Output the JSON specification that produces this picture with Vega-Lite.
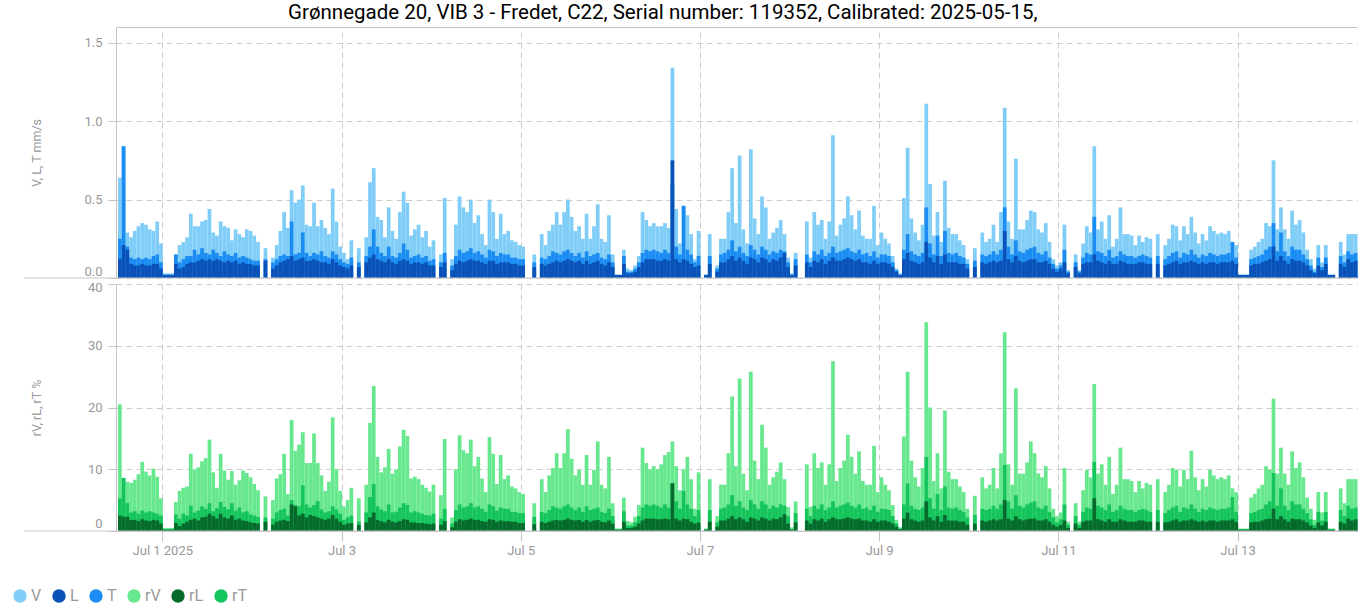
{
"$schema":"https://vega.github.io/schema/vega-lite/v6.json",
"background":"white",
"padding":{"left":12,"top":3,"right":0,"bottom":0},
"title":{"text":"Grønnegade 20, VIB 3 - Fredet, C22, Serial number: 119352, Calibrated: 2025-05-15,","font":"Roboto","fontSize":20.5,"fontWeight":"normal","color":"#000000","anchor":"middle","dx":-22,"offset":3.5},
"data":{"values":[
{"t":"2025-06-30T12:00","V":0.64,"L":0.12,"T":0.25,"rV":20.5,"rL":2.5,"rT":5.3},
{"t":"2025-06-30T13:00","V":0.84,"L":0.21,"T":0.84,"rV":8.6,"rL":2.3,"rT":8.6},
{"t":"2025-06-30T14:00","V":0.29,"L":0.18,"T":0.2,"rV":8,"rL":2.3,"rT":4.5},
{"t":"2025-06-30T15:00","V":0.26,"L":0.09,"T":0.13,"rV":7.8,"rL":1.8,"rT":3},
{"t":"2025-06-30T16:00","V":0.3,"L":0.08,"T":0.12,"rV":8.3,"rL":1.8,"rT":3.2},
{"t":"2025-06-30T17:00","V":0.33,"L":0.08,"T":0.13,"rV":9.2,"rL":1.6,"rT":2.8},
{"t":"2025-06-30T18:00","V":0.35,"L":0.09,"T":0.12,"rV":11.2,"rL":1.9,"rT":3.3},
{"t":"2025-06-30T19:00","V":0.34,"L":0.08,"T":0.13,"rV":9.6,"rL":1.7,"rT":3},
{"t":"2025-06-30T20:00","V":0.31,"L":0.08,"T":0.12,"rV":9,"rL":1.6,"rT":3.2},
{"t":"2025-06-30T21:00","V":0.3,"L":0.09,"T":0.14,"rV":10.1,"rL":1.8,"rT":3},
{"t":"2025-06-30T22:00","V":0.36,"L":0.09,"T":0.15,"rV":8.8,"rL":1.7,"rT":2.8},
{"t":"2025-06-30T23:00","V":0.22,"L":0.06,"T":0.1,"rV":5.3,"rL":1.2,"rT":2.5},
{"t":"2025-07-01T00:00","V":0.03,"L":0.02,"T":0.02,"rV":0.5,"rL":0.2,"rT":0.3},
{"t":"2025-07-01T01:00","V":0.03,"L":0.02,"T":0.02,"rV":0.5,"rL":0.2,"rT":0.3},
{"t":"2025-07-01T02:00","V":0.03,"L":0.02,"T":0.02,"rV":0.5,"rL":0.2,"rT":0.3},
{"t":"2025-07-01T03:00","V":0.15,"L":0.09,"T":0.15,"rV":4.7,"rL":1.3,"rT":2.7},
{"t":"2025-07-01T04:00","V":0.21,"L":0.06,"T":0.1,"rV":6.5,"rL":0.8,"rT":2},
{"t":"2025-07-01T05:00","V":0.23,"L":0.07,"T":0.12,"rV":7,"rL":1.2,"rT":2.8},
{"t":"2025-07-01T06:00","V":0.26,"L":0.09,"T":0.14,"rV":7.2,"rL":1.5,"rT":2.5},
{"t":"2025-07-01T07:00","V":0.41,"L":0.1,"T":0.14,"rV":12.5,"rL":1.8,"rT":4.1},
{"t":"2025-07-01T08:00","V":0.33,"L":0.1,"T":0.18,"rV":10,"rL":2,"rT":3},
{"t":"2025-07-01T09:00","V":0.33,"L":0.11,"T":0.15,"rV":10.3,"rL":1.7,"rT":3.3},
{"t":"2025-07-01T10:00","V":0.36,"L":0.12,"T":0.19,"rV":11.3,"rL":2.2,"rT":4},
{"t":"2025-07-01T11:00","V":0.37,"L":0.11,"T":0.16,"rV":11.8,"rL":2.3,"rT":3.6},
{"t":"2025-07-01T12:00","V":0.44,"L":0.12,"T":0.15,"rV":14.8,"rL":2.8,"rT":4.5},
{"t":"2025-07-01T13:00","V":0.29,"L":0.11,"T":0.18,"rV":9.5,"rL":2.4,"rT":3.2},
{"t":"2025-07-01T14:00","V":0.27,"L":0.12,"T":0.16,"rV":7,"rL":2,"rT":3.7},
{"t":"2025-07-01T15:00","V":0.36,"L":0.11,"T":0.14,"rV":12.5,"rL":2.8,"rT":4.7},
{"t":"2025-07-01T16:00","V":0.33,"L":0.1,"T":0.17,"rV":9.8,"rL":2.2,"rT":3.9},
{"t":"2025-07-01T17:00","V":0.32,"L":0.11,"T":0.15,"rV":8.3,"rL":2,"rT":3.5},
{"t":"2025-07-01T18:00","V":0.24,"L":0.1,"T":0.14,"rV":9.7,"rL":2.5,"rT":4.5},
{"t":"2025-07-01T19:00","V":0.31,"L":0.11,"T":0.16,"rV":7.5,"rL":1.8,"rT":3.3},
{"t":"2025-07-01T20:00","V":0.28,"L":0.09,"T":0.13,"rV":8.2,"rL":2,"rT":3.8},
{"t":"2025-07-01T21:00","V":0.26,"L":0.1,"T":0.14,"rV":9.8,"rL":1.7,"rT":3},
{"t":"2025-07-01T22:00","V":0.31,"L":0.09,"T":0.13,"rV":9.4,"rL":1.6,"rT":3.2},
{"t":"2025-07-01T23:00","V":0.3,"L":0.09,"T":0.12,"rV":8.7,"rL":1.4,"rT":2.7},
{"t":"2025-07-02T00:00","V":0.27,"L":0.08,"T":0.11,"rV":7.6,"rL":1.3,"rT":2.5},
{"t":"2025-07-02T01:00","V":0.23,"L":0.08,"T":0.11,"rV":6.6,"rL":1.2,"rT":2.3},
{"t":"2025-07-02T03:00","V":0.19,"L":0.11,"T":0.12,"rV":5.6,"rL":1.5,"rT":2.2},
{"t":"2025-07-02T05:00","V":0.13,"L":0.06,"T":0.1,"rV":5,"rL":1,"rT":2},
{"t":"2025-07-02T06:00","V":0.21,"L":0.08,"T":0.12,"rV":8.5,"rL":1.5,"rT":3},
{"t":"2025-07-02T07:00","V":0.3,"L":0.1,"T":0.14,"rV":9.2,"rL":1.7,"rT":3.4},
{"t":"2025-07-02T08:00","V":0.42,"L":0.11,"T":0.15,"rV":12.5,"rL":1.8,"rT":3.6},
{"t":"2025-07-02T09:00","V":0.32,"L":0.12,"T":0.14,"rV":6,"rL":1.6,"rT":2.5},
{"t":"2025-07-02T10:00","V":0.56,"L":0.14,"T":0.36,"rV":18,"rL":4.3,"rT":5},
{"t":"2025-07-02T11:00","V":0.48,"L":0.11,"T":0.15,"rV":13,"rL":4,"rT":4.2},
{"t":"2025-07-02T12:00","V":0.5,"L":0.12,"T":0.16,"rV":14,"rL":2.5,"rT":4},
{"t":"2025-07-02T13:00","V":0.59,"L":0.13,"T":0.29,"rV":16,"rL":2.8,"rT":7.4},
{"t":"2025-07-02T14:00","V":0.34,"L":0.11,"T":0.16,"rV":11,"rL":2.2,"rT":4.3},
{"t":"2025-07-02T15:00","V":0.33,"L":0.11,"T":0.14,"rV":11,"rL":2.6,"rT":3.8},
{"t":"2025-07-02T16:00","V":0.48,"L":0.12,"T":0.16,"rV":15.8,"rL":2.4,"rT":4.2},
{"t":"2025-07-02T17:00","V":0.33,"L":0.11,"T":0.15,"rV":11,"rL":2.2,"rT":4.8},
{"t":"2025-07-02T18:00","V":0.37,"L":0.1,"T":0.17,"rV":9,"rL":2,"rT":3.5},
{"t":"2025-07-02T19:00","V":0.32,"L":0.1,"T":0.14,"rV":6.5,"rL":1.8,"rT":3},
{"t":"2025-07-02T20:00","V":0.28,"L":0.09,"T":0.13,"rV":8,"rL":2,"rT":3.2},
{"t":"2025-07-02T21:00","V":0.57,"L":0.12,"T":0.17,"rV":18.4,"rL":2.6,"rT":4},
{"t":"2025-07-02T22:00","V":0.36,"L":0.1,"T":0.15,"rV":10,"rL":2,"rT":3.5},
{"t":"2025-07-02T23:00","V":0.2,"L":0.08,"T":0.12,"rV":6.5,"rL":1.5,"rT":2.8},
{"t":"2025-07-03T00:00","V":0.16,"L":0.07,"T":0.1,"rV":4,"rL":1,"rT":1.8},
{"t":"2025-07-03T01:00","V":0.12,"L":0.06,"T":0.09,"rV":5,"rL":1.2,"rT":2.2},
{"t":"2025-07-03T02:00","V":0.24,"L":0.08,"T":0.13,"rV":7,"rL":1.3,"rT":2.5},
{"t":"2025-07-03T04:00","V":0.19,"L":0.07,"T":0.1,"rV":5.3,"rL":1,"rT":1.5},
{"t":"2025-07-03T06:00","V":0.26,"L":0.1,"T":0.14,"rV":7.5,"rL":1.4,"rT":3},
{"t":"2025-07-03T07:00","V":0.61,"L":0.13,"T":0.2,"rV":17.5,"rL":2.2,"rT":5.5},
{"t":"2025-07-03T08:00","V":0.7,"L":0.15,"T":0.31,"rV":23.5,"rL":3,"rT":7.6},
{"t":"2025-07-03T09:00","V":0.39,"L":0.12,"T":0.2,"rV":12,"rL":1.8,"rT":4},
{"t":"2025-07-03T10:00","V":0.37,"L":0.11,"T":0.16,"rV":9.5,"rL":1.6,"rT":3.5},
{"t":"2025-07-03T11:00","V":0.26,"L":0.1,"T":0.14,"rV":10.3,"rL":1.4,"rT":3.2},
{"t":"2025-07-03T12:00","V":0.45,"L":0.12,"T":0.2,"rV":13.3,"rL":1.8,"rT":4.3},
{"t":"2025-07-03T13:00","V":0.3,"L":0.1,"T":0.14,"rV":9.3,"rL":1.5,"rT":3},
{"t":"2025-07-03T14:00","V":0.25,"L":0.09,"T":0.13,"rV":10,"rL":1.4,"rT":3.1},
{"t":"2025-07-03T15:00","V":0.42,"L":0.11,"T":0.16,"rV":13.7,"rL":1.6,"rT":3.8},
{"t":"2025-07-03T16:00","V":0.55,"L":0.12,"T":0.22,"rV":16.4,"rL":1.9,"rT":4.5},
{"t":"2025-07-03T17:00","V":0.48,"L":0.11,"T":0.18,"rV":15.4,"rL":1.8,"rT":4.2},
{"t":"2025-07-03T18:00","V":0.27,"L":0.09,"T":0.13,"rV":8.5,"rL":1.4,"rT":3},
{"t":"2025-07-03T19:00","V":0.31,"L":0.1,"T":0.14,"rV":8.8,"rL":1.4,"rT":3.2},
{"t":"2025-07-03T20:00","V":0.34,"L":0.1,"T":0.15,"rV":8.4,"rL":1.3,"rT":3},
{"t":"2025-07-03T21:00","V":0.26,"L":0.09,"T":0.13,"rV":7.5,"rL":1.3,"rT":2.8},
{"t":"2025-07-03T22:00","V":0.3,"L":0.1,"T":0.14,"rV":7,"rL":1.2,"rT":2.6},
{"t":"2025-07-03T23:00","V":0.2,"L":0.08,"T":0.11,"rV":6.4,"rL":1.1,"rT":2.5},
{"t":"2025-07-04T00:00","V":0.24,"L":0.08,"T":0.12,"rV":7.5,"rL":1.2,"rT":2.8},
{"t":"2025-07-04T02:00","V":0.15,"L":0.07,"T":0.1,"rV":5.8,"rL":1,"rT":2},
{"t":"2025-07-04T03:00","V":0.51,"L":0.1,"T":0.16,"rV":14.9,"rL":1.6,"rT":3.6},
{"t":"2025-07-04T05:00","V":0.12,"L":0.05,"T":0.08,"rV":2.2,"rL":0.6,"rT":1.2},
{"t":"2025-07-04T06:00","V":0.34,"L":0.09,"T":0.14,"rV":10,"rL":1.5,"rT":3.4},
{"t":"2025-07-04T07:00","V":0.52,"L":0.11,"T":0.18,"rV":15.5,"rL":1.9,"rT":4.3},
{"t":"2025-07-04T08:00","V":0.45,"L":0.1,"T":0.16,"rV":13.1,"rL":1.7,"rT":3.8},
{"t":"2025-07-04T09:00","V":0.42,"L":0.11,"T":0.17,"rV":12.6,"rL":1.8,"rT":4},
{"t":"2025-07-04T10:00","V":0.5,"L":0.12,"T":0.19,"rV":14.8,"rL":2,"rT":4.5},
{"t":"2025-07-04T11:00","V":0.35,"L":0.11,"T":0.16,"rV":10.5,"rL":1.8,"rT":3.8},
{"t":"2025-07-04T12:00","V":0.4,"L":0.11,"T":0.17,"rV":12,"rL":1.8,"rT":4},
{"t":"2025-07-04T13:00","V":0.28,"L":0.1,"T":0.15,"rV":8.5,"rL":1.6,"rT":3.6},
{"t":"2025-07-04T14:00","V":0.21,"L":0.09,"T":0.13,"rV":6.3,"rL":1.5,"rT":3.1},
{"t":"2025-07-04T15:00","V":0.5,"L":0.11,"T":0.18,"rV":15.2,"rL":1.9,"rT":4.3},
{"t":"2025-07-04T16:00","V":0.42,"L":0.11,"T":0.17,"rV":12.5,"rL":1.8,"rT":4},
{"t":"2025-07-04T17:00","V":0.25,"L":0.09,"T":0.14,"rV":7.6,"rL":1.5,"rT":3.3},
{"t":"2025-07-04T18:00","V":0.41,"L":0.1,"T":0.16,"rV":12.3,"rL":1.7,"rT":3.8},
{"t":"2025-07-04T19:00","V":0.28,"L":0.1,"T":0.15,"rV":8.4,"rL":1.6,"rT":3.6},
{"t":"2025-07-04T20:00","V":0.3,"L":0.1,"T":0.15,"rV":9,"rL":1.6,"rT":3.6},
{"t":"2025-07-04T21:00","V":0.24,"L":0.09,"T":0.13,"rV":7.2,"rL":1.5,"rT":3.1},
{"t":"2025-07-04T22:00","V":0.23,"L":0.09,"T":0.13,"rV":6.9,"rL":1.5,"rT":3.1},
{"t":"2025-07-04T23:00","V":0.21,"L":0.08,"T":0.12,"rV":6.3,"rL":1.3,"rT":2.9},
{"t":"2025-07-05T00:00","V":0.2,"L":0.08,"T":0.12,"rV":6,"rL":1.3,"rT":2.9},
{"t":"2025-07-05T03:00","V":0.15,"L":0.07,"T":0.1,"rV":4.5,"rL":1.1,"rT":2.3},
{"t":"2025-07-05T05:00","V":0.28,"L":0.09,"T":0.13,"rV":8.4,"rL":1.5,"rT":3.1},
{"t":"2025-07-05T06:00","V":0.21,"L":0.08,"T":0.12,"rV":6.3,"rL":1.3,"rT":2.9},
{"t":"2025-07-05T07:00","V":0.3,"L":0.09,"T":0.14,"rV":9,"rL":1.5,"rT":3.4},
{"t":"2025-07-05T08:00","V":0.34,"L":0.1,"T":0.17,"rV":10.2,"rL":1.7,"rT":4},
{"t":"2025-07-05T09:00","V":0.42,"L":0.11,"T":0.16,"rV":12.6,"rL":1.8,"rT":3.8},
{"t":"2025-07-05T10:00","V":0.34,"L":0.1,"T":0.15,"rV":10.2,"rL":1.7,"rT":3.6},
{"t":"2025-07-05T11:00","V":0.42,"L":0.11,"T":0.17,"rV":12.6,"rL":1.8,"rT":4},
{"t":"2025-07-05T12:00","V":0.5,"L":0.12,"T":0.18,"rV":16.5,"rL":2,"rT":4.3},
{"t":"2025-07-05T13:00","V":0.39,"L":0.11,"T":0.16,"rV":11.7,"rL":1.8,"rT":3.8},
{"t":"2025-07-05T14:00","V":0.3,"L":0.1,"T":0.14,"rV":9,"rL":1.7,"rT":3.4},
{"t":"2025-07-05T15:00","V":0.33,"L":0.11,"T":0.16,"rV":9.9,"rL":1.8,"rT":3.8},
{"t":"2025-07-05T16:00","V":0.25,"L":0.09,"T":0.13,"rV":7.5,"rL":1.5,"rT":3.1},
{"t":"2025-07-05T17:00","V":0.41,"L":0.11,"T":0.17,"rV":12.3,"rL":1.8,"rT":4},
{"t":"2025-07-05T18:00","V":0.25,"L":0.09,"T":0.14,"rV":7.5,"rL":1.5,"rT":3.4},
{"t":"2025-07-05T19:00","V":0.33,"L":0.1,"T":0.15,"rV":9.9,"rL":1.7,"rT":3.6},
{"t":"2025-07-05T20:00","V":0.47,"L":0.11,"T":0.16,"rV":14.5,"rL":1.8,"rT":3.8},
{"t":"2025-07-05T21:00","V":0.25,"L":0.09,"T":0.13,"rV":7.5,"rL":1.5,"rT":3.1},
{"t":"2025-07-05T22:00","V":0.23,"L":0.08,"T":0.12,"rV":6.9,"rL":1.4,"rT":2.9},
{"t":"2025-07-05T23:00","V":0.4,"L":0.1,"T":0.15,"rV":12,"rL":1.7,"rT":3.6},
{"t":"2025-07-06T00:00","V":0.15,"L":0.07,"T":0.1,"rV":4.5,"rL":1.2,"rT":2.4},
{"t":"2025-07-06T01:00","V":0.02,"L":0.02,"T":0.02,"rV":0.4,"rL":0.2,"rT":0.3},
{"t":"2025-07-06T02:00","V":0.02,"L":0.02,"T":0.02,"rV":0.4,"rL":0.2,"rT":0.3},
{"t":"2025-07-06T03:00","V":0.18,"L":0.09,"T":0.14,"rV":5.4,"rL":1.5,"rT":3.2},
{"t":"2025-07-06T04:00","V":0.06,"L":0.03,"T":0.04,"rV":1.6,"rL":0.5,"rT":0.9},
{"t":"2025-07-06T05:00","V":0.05,"L":0.03,"T":0.04,"rV":1.4,"rL":0.5,"rT":0.9},
{"t":"2025-07-06T06:00","V":0.08,"L":0.04,"T":0.06,"rV":2.3,"rL":0.7,"rT":1.4},
{"t":"2025-07-06T07:00","V":0.14,"L":0.07,"T":0.1,"rV":4.2,"rL":1.2,"rT":2.4},
{"t":"2025-07-06T08:00","V":0.42,"L":0.1,"T":0.16,"rV":13.5,"rL":1.7,"rT":3.8},
{"t":"2025-07-06T09:00","V":0.37,"L":0.12,"T":0.18,"rV":11,"rL":2,"rT":4.3},
{"t":"2025-07-06T10:00","V":0.33,"L":0.12,"T":0.17,"rV":10,"rL":2,"rT":4.1},
{"t":"2025-07-06T11:00","V":0.35,"L":0.12,"T":0.18,"rV":10.5,"rL":2,"rT":4.3},
{"t":"2025-07-06T12:00","V":0.33,"L":0.11,"T":0.17,"rV":10,"rL":1.9,"rT":4.1},
{"t":"2025-07-06T13:00","V":0.33,"L":0.11,"T":0.16,"rV":10.8,"rL":1.9,"rT":3.8},
{"t":"2025-07-06T14:00","V":0.35,"L":0.12,"T":0.18,"rV":12.3,"rL":2,"rT":4.3},
{"t":"2025-07-06T15:00","V":0.32,"L":0.11,"T":0.16,"rV":12.8,"rL":1.9,"rT":3.8},
{"t":"2025-07-06T16:00","V":1.34,"L":0.75,"T":0.6,"rV":14.5,"rL":7.7,"rT":7.8},
{"t":"2025-07-06T17:00","V":0.44,"L":0.12,"T":0.2,"rV":10.5,"rL":2,"rT":4.8},
{"t":"2025-07-06T18:00","V":0.22,"L":0.1,"T":0.15,"rV":6.6,"rL":1.7,"rT":3.6},
{"t":"2025-07-06T19:00","V":0.46,"L":0.12,"T":0.46,"rV":10,"rL":2,"rT":6.5},
{"t":"2025-07-06T20:00","V":0.4,"L":0.11,"T":0.18,"rV":12,"rL":1.9,"rT":4.3},
{"t":"2025-07-06T21:00","V":0.28,"L":0.09,"T":0.15,"rV":8.4,"rL":1.5,"rT":3.6},
{"t":"2025-07-06T22:00","V":0.12,"L":0.07,"T":0.1,"rV":3.6,"rL":1.2,"rT":2.4},
{"t":"2025-07-06T23:00","V":0.3,"L":0.08,"T":0.14,"rV":9.5,"rL":1.4,"rT":3.4},
{"t":"2025-07-07T01:00","V":0.02,"L":0.02,"T":0.02,"rV":0.4,"rL":0.2,"rT":0.3},
{"t":"2025-07-07T02:00","V":0.28,"L":0.09,"T":0.14,"rV":8.4,"rL":1.5,"rT":3.4},
{"t":"2025-07-07T04:00","V":0.08,"L":0.04,"T":0.06,"rV":2.4,"rL":0.7,"rT":1.4},
{"t":"2025-07-07T05:00","V":0.25,"L":0.1,"T":0.15,"rV":7.5,"rL":1.7,"rT":3.6},
{"t":"2025-07-07T06:00","V":0.25,"L":0.1,"T":0.16,"rV":7.5,"rL":1.7,"rT":3.8},
{"t":"2025-07-07T07:00","V":0.42,"L":0.12,"T":0.18,"rV":12.6,"rL":2,"rT":4.3},
{"t":"2025-07-07T08:00","V":0.7,"L":0.14,"T":0.24,"rV":21.8,"rL":2.4,"rT":5.8},
{"t":"2025-07-07T09:00","V":0.35,"L":0.11,"T":0.17,"rV":10.5,"rL":1.9,"rT":4.1},
{"t":"2025-07-07T10:00","V":0.78,"L":0.13,"T":0.2,"rV":24.7,"rL":2.2,"rT":4.8},
{"t":"2025-07-07T11:00","V":0.31,"L":0.11,"T":0.16,"rV":9.3,"rL":1.9,"rT":3.8},
{"t":"2025-07-07T12:00","V":0.22,"L":0.09,"T":0.14,"rV":6.6,"rL":1.5,"rT":3.4},
{"t":"2025-07-07T13:00","V":0.82,"L":0.13,"T":0.21,"rV":25.8,"rL":2.2,"rT":5},
{"t":"2025-07-07T14:00","V":0.38,"L":0.12,"T":0.18,"rV":11.4,"rL":2,"rT":4.3},
{"t":"2025-07-07T15:00","V":0.28,"L":0.1,"T":0.15,"rV":8.4,"rL":1.7,"rT":3.6},
{"t":"2025-07-07T16:00","V":0.52,"L":0.13,"T":0.2,"rV":17.2,"rL":2.2,"rT":4.8},
{"t":"2025-07-07T17:00","V":0.45,"L":0.12,"T":0.18,"rV":13.5,"rL":2,"rT":4.3},
{"t":"2025-07-07T18:00","V":0.25,"L":0.1,"T":0.15,"rV":7.5,"rL":1.7,"rT":3.6},
{"t":"2025-07-07T19:00","V":0.29,"L":0.12,"T":0.17,"rV":8.7,"rL":2,"rT":4.1},
{"t":"2025-07-07T20:00","V":0.32,"L":0.11,"T":0.16,"rV":9.6,"rL":1.9,"rT":3.8},
{"t":"2025-07-07T21:00","V":0.37,"L":0.13,"T":0.18,"rV":11.1,"rL":2.2,"rT":4.3},
{"t":"2025-07-07T22:00","V":0.28,"L":0.16,"T":0.17,"rV":8.4,"rL":2.7,"rT":4.1},
{"t":"2025-07-07T23:00","V":0.13,"L":0.07,"T":0.1,"rV":3.9,"rL":1.2,"rT":2.4},
{"t":"2025-07-08T00:00","V":0.03,"L":0.02,"T":0.02,"rV":0.6,"rL":0.2,"rT":0.3},
{"t":"2025-07-08T01:00","V":0.16,"L":0.08,"T":0.12,"rV":4.8,"rL":1.4,"rT":2.9},
{"t":"2025-07-08T04:00","V":0.36,"L":0.1,"T":0.15,"rV":10.8,"rL":1.7,"rT":3.6},
{"t":"2025-07-08T05:00","V":0.13,"L":0.07,"T":0.1,"rV":3.9,"rL":1.2,"rT":2.4},
{"t":"2025-07-08T06:00","V":0.42,"L":0.11,"T":0.17,"rV":12.6,"rL":1.9,"rT":4.1},
{"t":"2025-07-08T07:00","V":0.34,"L":0.1,"T":0.15,"rV":10.2,"rL":1.7,"rT":3.6},
{"t":"2025-07-08T08:00","V":0.37,"L":0.12,"T":0.18,"rV":11.1,"rL":2,"rT":4.3},
{"t":"2025-07-08T09:00","V":0.25,"L":0.09,"T":0.14,"rV":7.5,"rL":1.5,"rT":3.4},
{"t":"2025-07-08T10:00","V":0.36,"L":0.11,"T":0.16,"rV":10.8,"rL":1.9,"rT":3.8},
{"t":"2025-07-08T11:00","V":0.91,"L":0.13,"T":0.2,"rV":27.5,"rL":2.2,"rT":4.8},
{"t":"2025-07-08T12:00","V":0.27,"L":0.11,"T":0.16,"rV":8.1,"rL":1.9,"rT":3.8},
{"t":"2025-07-08T13:00","V":0.34,"L":0.11,"T":0.17,"rV":10.2,"rL":1.9,"rT":4.1},
{"t":"2025-07-08T14:00","V":0.38,"L":0.12,"T":0.18,"rV":11.4,"rL":2,"rT":4.3},
{"t":"2025-07-08T15:00","V":0.52,"L":0.13,"T":0.19,"rV":15.6,"rL":2.2,"rT":4.6},
{"t":"2025-07-08T16:00","V":0.4,"L":0.12,"T":0.17,"rV":12,"rL":2,"rT":4.1},
{"t":"2025-07-08T17:00","V":0.31,"L":0.11,"T":0.16,"rV":9.3,"rL":1.9,"rT":3.8},
{"t":"2025-07-08T18:00","V":0.43,"L":0.12,"T":0.18,"rV":12.9,"rL":2,"rT":4.3},
{"t":"2025-07-08T19:00","V":0.27,"L":0.1,"T":0.15,"rV":8.1,"rL":1.7,"rT":3.6},
{"t":"2025-07-08T20:00","V":0.25,"L":0.1,"T":0.16,"rV":7.5,"rL":1.7,"rT":3.8},
{"t":"2025-07-08T21:00","V":0.25,"L":0.09,"T":0.14,"rV":7.5,"rL":1.5,"rT":3.4},
{"t":"2025-07-08T22:00","V":0.46,"L":0.11,"T":0.17,"rV":13.8,"rL":1.9,"rT":4.1},
{"t":"2025-07-08T23:00","V":0.21,"L":0.09,"T":0.13,"rV":6.3,"rL":1.5,"rT":3.1},
{"t":"2025-07-09T00:00","V":0.29,"L":0.1,"T":0.15,"rV":8.7,"rL":1.7,"rT":3.6},
{"t":"2025-07-09T01:00","V":0.25,"L":0.1,"T":0.15,"rV":7.5,"rL":1.7,"rT":3.6},
{"t":"2025-07-09T02:00","V":0.22,"L":0.09,"T":0.14,"rV":6.6,"rL":1.5,"rT":3.4},
{"t":"2025-07-09T03:00","V":0.14,"L":0.07,"T":0.1,"rV":4.2,"rL":1.2,"rT":2.4},
{"t":"2025-07-09T04:00","V":0.06,"L":0.04,"T":0.05,"rV":1.8,"rL":0.7,"rT":1.2},
{"t":"2025-07-09T05:00","V":0.03,"L":0.02,"T":0.02,"rV":0.6,"rL":0.3,"rT":0.4},
{"t":"2025-07-09T06:00","V":0.51,"L":0.12,"T":0.18,"rV":15.3,"rL":2,"rT":4.3},
{"t":"2025-07-09T07:00","V":0.83,"L":0.16,"T":0.28,"rV":25.8,"rL":3,"rT":7.7},
{"t":"2025-07-09T08:00","V":0.38,"L":0.11,"T":0.17,"rV":11.4,"rL":1.9,"rT":4.1},
{"t":"2025-07-09T09:00","V":0.29,"L":0.1,"T":0.15,"rV":8.7,"rL":1.7,"rT":3.6},
{"t":"2025-07-09T10:00","V":0.24,"L":0.09,"T":0.14,"rV":7.2,"rL":1.5,"rT":3.4},
{"t":"2025-07-09T11:00","V":0.34,"L":0.1,"T":0.16,"rV":10.2,"rL":1.7,"rT":3.8},
{"t":"2025-07-09T12:00","V":1.11,"L":0.23,"T":0.45,"rV":33.8,"rL":4.8,"rT":12},
{"t":"2025-07-09T13:00","V":0.6,"L":0.13,"T":0.22,"rV":20,"rL":2.2,"rT":5.3},
{"t":"2025-07-09T14:00","V":0.27,"L":0.1,"T":0.15,"rV":8.1,"rL":1.7,"rT":3.6},
{"t":"2025-07-09T15:00","V":0.42,"L":0.14,"T":0.27,"rV":12.6,"rL":2.4,"rT":6},
{"t":"2025-07-09T16:00","V":0.23,"L":0.09,"T":0.14,"rV":6.9,"rL":1.5,"rT":3.4},
{"t":"2025-07-09T17:00","V":0.62,"L":0.15,"T":0.3,"rV":19.5,"rL":2.6,"rT":7.2},
{"t":"2025-07-09T18:00","V":0.32,"L":0.1,"T":0.16,"rV":9.6,"rL":1.7,"rT":3.8},
{"t":"2025-07-09T19:00","V":0.28,"L":0.1,"T":0.15,"rV":8.4,"rL":1.7,"rT":3.6},
{"t":"2025-07-09T20:00","V":0.28,"L":0.1,"T":0.16,"rV":8.4,"rL":1.7,"rT":3.8},
{"t":"2025-07-09T21:00","V":0.24,"L":0.09,"T":0.14,"rV":7.2,"rL":1.5,"rT":3.4},
{"t":"2025-07-09T22:00","V":0.21,"L":0.09,"T":0.13,"rV":6.3,"rL":1.5,"rT":3.1},
{"t":"2025-07-09T23:00","V":0.12,"L":0.06,"T":0.09,"rV":3.6,"rL":1,"rT":2.2},
{"t":"2025-07-10T01:00","V":0.19,"L":0.07,"T":0.11,"rV":5.7,"rL":1.2,"rT":2.6},
{"t":"2025-07-10T03:00","V":0.29,"L":0.1,"T":0.15,"rV":8.7,"rL":1.7,"rT":3.6},
{"t":"2025-07-10T04:00","V":0.23,"L":0.09,"T":0.14,"rV":6.9,"rL":1.5,"rT":3.4},
{"t":"2025-07-10T05:00","V":0.25,"L":0.1,"T":0.15,"rV":7.5,"rL":1.7,"rT":3.6},
{"t":"2025-07-10T06:00","V":0.34,"L":0.11,"T":0.17,"rV":10.2,"rL":1.9,"rT":4.1},
{"t":"2025-07-10T07:00","V":0.23,"L":0.1,"T":0.15,"rV":6.9,"rL":1.7,"rT":3.6},
{"t":"2025-07-10T08:00","V":0.42,"L":0.11,"T":0.18,"rV":12.6,"rL":1.9,"rT":4.3},
{"t":"2025-07-10T09:00","V":1.085,"L":0.3,"T":0.45,"rV":32.2,"rL":5,"rT":10.7},
{"t":"2025-07-10T10:00","V":0.36,"L":0.12,"T":0.2,"rV":10.8,"rL":2,"rT":4.8},
{"t":"2025-07-10T11:00","V":0.25,"L":0.1,"T":0.15,"rV":7.5,"rL":1.7,"rT":3.6},
{"t":"2025-07-10T12:00","V":0.76,"L":0.14,"T":0.24,"rV":23.1,"rL":2.4,"rT":5.8},
{"t":"2025-07-10T13:00","V":0.31,"L":0.11,"T":0.17,"rV":9.3,"rL":1.9,"rT":4.1},
{"t":"2025-07-10T14:00","V":0.31,"L":0.1,"T":0.16,"rV":9.3,"rL":1.7,"rT":3.8},
{"t":"2025-07-10T15:00","V":0.37,"L":0.11,"T":0.18,"rV":11.1,"rL":1.9,"rT":4.3},
{"t":"2025-07-10T16:00","V":0.43,"L":0.12,"T":0.19,"rV":14.5,"rL":2,"rT":4.6},
{"t":"2025-07-10T17:00","V":0.42,"L":0.12,"T":0.2,"rV":12.6,"rL":2,"rT":4.8},
{"t":"2025-07-10T18:00","V":0.31,"L":0.1,"T":0.16,"rV":9.3,"rL":1.7,"rT":3.8},
{"t":"2025-07-10T19:00","V":0.29,"L":0.1,"T":0.15,"rV":8.7,"rL":1.7,"rT":3.6},
{"t":"2025-07-10T20:00","V":0.35,"L":0.11,"T":0.17,"rV":10.5,"rL":1.9,"rT":4.1},
{"t":"2025-07-10T21:00","V":0.23,"L":0.09,"T":0.13,"rV":6.9,"rL":1.5,"rT":3.1},
{"t":"2025-07-10T22:00","V":0.12,"L":0.06,"T":0.09,"rV":3.6,"rL":1,"rT":2.2},
{"t":"2025-07-10T23:00","V":0.08,"L":0.04,"T":0.06,"rV":2.4,"rL":0.7,"rT":1.4},
{"t":"2025-07-11T00:00","V":0.1,"L":0.06,"T":0.08,"rV":3,"rL":1,"rT":1.9},
{"t":"2025-07-11T01:00","V":0.34,"L":0.1,"T":0.18,"rV":10.2,"rL":1.7,"rT":4.3},
{"t":"2025-07-11T02:00","V":0.05,"L":0.03,"T":0.04,"rV":1.5,"rL":0.5,"rT":1},
{"t":"2025-07-11T04:00","V":0.15,"L":0.07,"T":0.1,"rV":4.5,"rL":1.2,"rT":2.4},
{"t":"2025-07-11T05:00","V":0.05,"L":0.03,"T":0.04,"rV":1.5,"rL":0.5,"rT":1},
{"t":"2025-07-11T06:00","V":0.22,"L":0.09,"T":0.13,"rV":6.6,"rL":1.5,"rT":3.1},
{"t":"2025-07-11T07:00","V":0.33,"L":0.1,"T":0.16,"rV":9.9,"rL":1.7,"rT":3.8},
{"t":"2025-07-11T08:00","V":0.29,"L":0.1,"T":0.15,"rV":8.7,"rL":1.7,"rT":3.6},
{"t":"2025-07-11T09:00","V":0.84,"L":0.15,"T":0.39,"rV":23.8,"rL":5.3,"rT":11.2},
{"t":"2025-07-11T10:00","V":0.31,"L":0.11,"T":0.17,"rV":9.3,"rL":1.9,"rT":4.1},
{"t":"2025-07-11T11:00","V":0.36,"L":0.1,"T":0.16,"rV":10.8,"rL":1.7,"rT":3.8},
{"t":"2025-07-11T12:00","V":0.25,"L":0.09,"T":0.14,"rV":7.5,"rL":1.5,"rT":3.4},
{"t":"2025-07-11T13:00","V":0.4,"L":0.11,"T":0.18,"rV":12,"rL":1.9,"rT":4.3},
{"t":"2025-07-11T14:00","V":0.2,"L":0.09,"T":0.13,"rV":6,"rL":1.5,"rT":3.1},
{"t":"2025-07-11T15:00","V":0.25,"L":0.09,"T":0.14,"rV":7.5,"rL":1.5,"rT":3.4},
{"t":"2025-07-11T16:00","V":0.45,"L":0.11,"T":0.17,"rV":13.5,"rL":1.9,"rT":4.1},
{"t":"2025-07-11T17:00","V":0.28,"L":0.1,"T":0.15,"rV":8.4,"rL":1.7,"rT":3.6},
{"t":"2025-07-11T18:00","V":0.28,"L":0.09,"T":0.14,"rV":8.4,"rL":1.5,"rT":3.4},
{"t":"2025-07-11T19:00","V":0.27,"L":0.09,"T":0.14,"rV":8.1,"rL":1.5,"rT":3.4},
{"t":"2025-07-11T20:00","V":0.21,"L":0.09,"T":0.13,"rV":6.3,"rL":1.5,"rT":3.1},
{"t":"2025-07-11T21:00","V":0.27,"L":0.1,"T":0.14,"rV":8.1,"rL":1.7,"rT":3.4},
{"t":"2025-07-11T22:00","V":0.23,"L":0.1,"T":0.15,"rV":6.9,"rL":1.7,"rT":3.6},
{"t":"2025-07-11T23:00","V":0.26,"L":0.09,"T":0.14,"rV":7.8,"rL":1.5,"rT":3.4},
{"t":"2025-07-12T00:00","V":0.25,"L":0.09,"T":0.13,"rV":7.5,"rL":1.5,"rT":3.1},
{"t":"2025-07-12T02:00","V":0.28,"L":0.09,"T":0.14,"rV":8.4,"rL":1.5,"rT":3.4},
{"t":"2025-07-12T04:00","V":0.21,"L":0.08,"T":0.12,"rV":6.3,"rL":1.4,"rT":2.9},
{"t":"2025-07-12T05:00","V":0.25,"L":0.09,"T":0.14,"rV":7.5,"rL":1.5,"rT":3.4},
{"t":"2025-07-12T06:00","V":0.34,"L":0.1,"T":0.16,"rV":10.2,"rL":1.7,"rT":3.8},
{"t":"2025-07-12T07:00","V":0.33,"L":0.11,"T":0.17,"rV":9.9,"rL":1.9,"rT":4.1},
{"t":"2025-07-12T08:00","V":0.24,"L":0.09,"T":0.13,"rV":7.2,"rL":1.5,"rT":3.1},
{"t":"2025-07-12T09:00","V":0.33,"L":0.1,"T":0.16,"rV":9.9,"rL":1.7,"rT":3.8},
{"t":"2025-07-12T10:00","V":0.28,"L":0.1,"T":0.15,"rV":8.4,"rL":1.7,"rT":3.6},
{"t":"2025-07-12T11:00","V":0.39,"L":0.11,"T":0.18,"rV":13,"rL":1.9,"rT":4.3},
{"t":"2025-07-12T12:00","V":0.29,"L":0.1,"T":0.15,"rV":8.7,"rL":1.7,"rT":3.6},
{"t":"2025-07-12T13:00","V":0.22,"L":0.09,"T":0.13,"rV":6.6,"rL":1.5,"rT":3.1},
{"t":"2025-07-12T14:00","V":0.28,"L":0.1,"T":0.15,"rV":8.4,"rL":1.7,"rT":3.6},
{"t":"2025-07-12T15:00","V":0.24,"L":0.09,"T":0.14,"rV":7.2,"rL":1.5,"rT":3.4},
{"t":"2025-07-12T16:00","V":0.33,"L":0.1,"T":0.16,"rV":9.9,"rL":1.7,"rT":3.8},
{"t":"2025-07-12T17:00","V":0.3,"L":0.1,"T":0.15,"rV":9,"rL":1.7,"rT":3.6},
{"t":"2025-07-12T18:00","V":0.28,"L":0.09,"T":0.14,"rV":8.4,"rL":1.5,"rT":3.4},
{"t":"2025-07-12T19:00","V":0.29,"L":0.1,"T":0.15,"rV":8.7,"rL":1.7,"rT":3.6},
{"t":"2025-07-12T20:00","V":0.28,"L":0.1,"T":0.15,"rV":8.4,"rL":1.7,"rT":3.6},
{"t":"2025-07-12T21:00","V":0.3,"L":0.1,"T":0.16,"rV":9,"rL":1.7,"rT":3.8},
{"t":"2025-07-12T22:00","V":0.23,"L":0.11,"T":0.23,"rV":6.9,"rL":1.9,"rT":5.5},
{"t":"2025-07-12T23:00","V":0.21,"L":0.09,"T":0.13,"rV":6.3,"rL":1.5,"rT":3.1},
{"t":"2025-07-13T00:00","V":0.02,"L":0.02,"T":0.02,"rV":0.4,"rL":0.2,"rT":0.3},
{"t":"2025-07-13T01:00","V":0.02,"L":0.02,"T":0.02,"rV":0.4,"rL":0.2,"rT":0.3},
{"t":"2025-07-13T02:00","V":0.02,"L":0.02,"T":0.02,"rV":0.4,"rL":0.2,"rT":0.3},
{"t":"2025-07-13T03:00","V":0.18,"L":0.08,"T":0.12,"rV":5.4,"rL":1.4,"rT":2.9},
{"t":"2025-07-13T04:00","V":0.2,"L":0.09,"T":0.13,"rV":6,"rL":1.5,"rT":3.1},
{"t":"2025-07-13T05:00","V":0.23,"L":0.09,"T":0.14,"rV":6.9,"rL":1.5,"rT":3.4},
{"t":"2025-07-13T06:00","V":0.25,"L":0.1,"T":0.15,"rV":7.5,"rL":1.7,"rT":3.6},
{"t":"2025-07-13T07:00","V":0.35,"L":0.11,"T":0.18,"rV":10.5,"rL":1.9,"rT":4.3},
{"t":"2025-07-13T08:00","V":0.33,"L":0.12,"T":0.2,"rV":9.9,"rL":2,"rT":4.8},
{"t":"2025-07-13T09:00","V":0.75,"L":0.2,"T":0.35,"rV":21.4,"rL":3.6,"rT":9.4},
{"t":"2025-07-13T10:00","V":0.31,"L":0.11,"T":0.17,"rV":9.3,"rL":1.9,"rT":4.1},
{"t":"2025-07-13T11:00","V":0.45,"L":0.14,"T":0.29,"rV":13.5,"rL":2.4,"rT":6.9},
{"t":"2025-07-13T12:00","V":0.31,"L":0.11,"T":0.17,"rV":9.3,"rL":1.9,"rT":4.1},
{"t":"2025-07-13T13:00","V":0.25,"L":0.09,"T":0.14,"rV":7.5,"rL":1.5,"rT":3.4},
{"t":"2025-07-13T14:00","V":0.43,"L":0.12,"T":0.2,"rV":12.9,"rL":2,"rT":4.8},
{"t":"2025-07-13T15:00","V":0.34,"L":0.11,"T":0.18,"rV":10.2,"rL":1.9,"rT":4.3},
{"t":"2025-07-13T16:00","V":0.37,"L":0.11,"T":0.18,"rV":11.1,"rL":1.9,"rT":4.3},
{"t":"2025-07-13T17:00","V":0.29,"L":0.1,"T":0.15,"rV":8.7,"rL":1.7,"rT":3.6},
{"t":"2025-07-13T18:00","V":0.18,"L":0.08,"T":0.12,"rV":5.4,"rL":1.4,"rT":2.9},
{"t":"2025-07-13T19:00","V":0.12,"L":0.05,"T":0.08,"rV":3.6,"rL":0.9,"rT":1.9},
{"t":"2025-07-13T20:00","V":0.06,"L":0.03,"T":0.04,"rV":1.8,"rL":0.5,"rT":1},
{"t":"2025-07-13T21:00","V":0.21,"L":0.08,"T":0.13,"rV":6.3,"rL":1.4,"rT":3.1},
{"t":"2025-07-13T22:00","V":0.1,"L":0.05,"T":0.07,"rV":3,"rL":0.9,"rT":1.7},
{"t":"2025-07-13T23:00","V":0.21,"L":0.09,"T":0.13,"rV":6.3,"rL":1.5,"rT":3.1},
{"t":"2025-07-14T00:00","V":0.02,"L":0.02,"T":0.02,"rV":0.4,"rL":0.2,"rT":0.3},
{"t":"2025-07-14T01:00","V":0.02,"L":0.02,"T":0.02,"rV":0.4,"rL":0.2,"rT":0.3},
{"t":"2025-07-14T03:00","V":0.23,"L":0.09,"T":0.14,"rV":6.9,"rL":1.5,"rT":3.4},
{"t":"2025-07-14T04:00","V":0.15,"L":0.07,"T":0.1,"rV":4.5,"rL":1.2,"rT":2.4},
{"t":"2025-07-14T05:00","V":0.28,"L":0.12,"T":0.17,"rV":8.4,"rL":2,"rT":4.1},
{"t":"2025-07-14T06:00","V":0.28,"L":0.1,"T":0.15,"rV":8.4,"rL":1.7,"rT":3.6},
{"t":"2025-07-14T07:00","V":0.28,"L":0.11,"T":0.16,"rV":8.4,"rL":1.9,"rT":3.8}
]},
"bounds":"flush",
"spacing":6,
"vconcat":[
{"width":1241,"height":251,
 "layer":[
  {"transform":[{"fold":["V","T","L"],"as":["key","value"]}],
   "mark":{"type":"bar","binSpacing":0},
   "encoding":{
    "x":{"field":"t","type":"temporal","timeUnit":"yearmonthdatehours",
      "scale":{"domain":[{"year":2025,"month":6,"date":30,"hours":11,"minutes":36},{"year":2025,"month":7,"date":14,"hours":8}]},
      "axis":{"orient":"top","labels":false,"ticks":false,"title":null,"grid":true,"domain":true,
        "values":[{"year":2025,"month":7,"date":1},{"year":2025,"month":7,"date":3},{"year":2025,"month":7,"date":5},{"year":2025,"month":7,"date":7},{"year":2025,"month":7,"date":9},{"year":2025,"month":7,"date":11},{"year":2025,"month":7,"date":13}]}},
    "y":{"field":"value","type":"quantitative","stack":null,"scale":{"domain":[0,1.6],"nice":false},
      "axis":{"values":[0,0.5,1,1.5],"format":".1f","title":"V, L, T mm/s","titleX":-73,"tickSize":8,"labelPadding":6,"grid":true,"domain":true,
        "labelOffset":{"condition":{"test":"datum.value === 0","value":-7},"value":0}}},
    "color":{"field":"key","type":"nominal",
      "scale":{"domain":["V","L","T","rV","rL","rT"],"range":["#80cef8","#0a52b8","#1a8cf2","#68e88e","#066a2d","#15c45b"]},
      "legend":{"title":null,"orient":"none","legendX":-104,"legendY":561,"direction":"horizontal","symbolType":"circle","symbolSize":180,"symbolStrokeWidth":0,"labelFontSize":16,"labelColor":"#999999","labelFont":"Roboto","columnPadding":9,"labelOffset":3,"padding":0}},
    "order":{"field":"key","sort":"descending"}
   }},
  {"data":{"values":[{}]},
   "mark":{"type":"rule","color":"#c8c8c8"},
   "encoding":{"x":{"datum":{"year":2025,"month":6,"date":29,"hours":11}},"x2":{"datum":{"year":2025,"month":7,"date":14,"hours":8}},"y":{"datum":0}}}
 ]},
{"width":1241,"height":247,
 "layer":[
  {"transform":[{"fold":["rV","rT","rL"],"as":["key","value"]}],
   "mark":{"type":"bar","binSpacing":0},
   "encoding":{
    "x":{"field":"t","type":"temporal","timeUnit":"yearmonthdatehours",
      "scale":{"domain":[{"year":2025,"month":6,"date":30,"hours":11,"minutes":36},{"year":2025,"month":7,"date":14,"hours":8}]},
      "axis":{"orient":"bottom","title":null,"grid":true,"domain":true,"tickSize":10,"labelPadding":3,
        "labelExpr":"timeFormat(datum.value, '%b %-d') + (date(datum.value) == 1 ? ' 2025' : '')",
        "values":[{"year":2025,"month":7,"date":1},{"year":2025,"month":7,"date":3},{"year":2025,"month":7,"date":5},{"year":2025,"month":7,"date":7},{"year":2025,"month":7,"date":9},{"year":2025,"month":7,"date":11},{"year":2025,"month":7,"date":13}]}},
    "y":{"field":"value","type":"quantitative","stack":null,"scale":{"domain":[0,40],"nice":false},
      "axis":{"values":[0,10,20,30,40],"format":"d","title":"rV, rL, rT %","titleX":-73,"tickSize":8,"labelPadding":6,"grid":true,"domain":true,
        "labelOffset":{"condition":[{"test":"datum.value === 0","value":-8},{"test":"datum.value === 40","value":3}],"value":0}}},
    "color":{"field":"key","type":"nominal",
      "scale":{"domain":["V","L","T","rV","rL","rT"],"range":["#80cef8","#0a52b8","#1a8cf2","#68e88e","#066a2d","#15c45b"]},
      "legend":{"title":null,"orient":"none","legendX":-104,"legendY":561,"direction":"horizontal","symbolType":"circle","symbolSize":180,"symbolStrokeWidth":0,"labelFontSize":16,"labelColor":"#999999","labelFont":"Roboto","columnPadding":9,"labelOffset":3,"padding":0}},
    "order":{"field":"key","sort":"descending"}
   }},
  {"data":{"values":[{}]},
   "mark":{"type":"rule","color":"#c8c8c8"},
   "encoding":{"x":{"datum":{"year":2025,"month":6,"date":29,"hours":11}},"x2":{"datum":{"year":2025,"month":7,"date":14,"hours":8}},"y":{"datum":0}}}
 ]}
],
"resolve":{"scale":{"color":"shared"}},
"config":{
 "font":"Roboto",
 "view":{"stroke":null},
 "axis":{"labelColor":"#999999","labelFont":"Roboto","labelFontSize":13,"titleColor":"#999999","titleFont":"Roboto","titleFontSize":12.5,"titleFontWeight":"normal","gridColor":"#cccccc","gridDash":[6,4],"domainColor":"#c4c4c4","tickColor":"#c4c4c4"}
}
}
